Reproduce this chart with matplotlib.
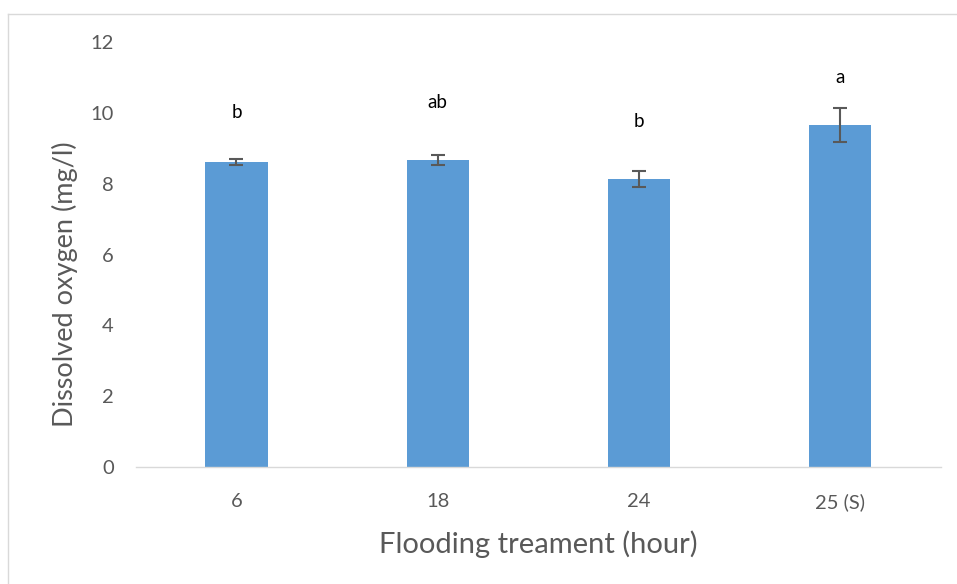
import matplotlib.pyplot as plt
from matplotlib.lines import Line2D

# values
treatments = ['6', '18', '24', '25 (S)']
oxygen = [8.61, 8.68, 8.14, 9.66]
oxygen_err = [0.09, 0.14, 0.23, 0.48]
letters = ['b', 'ab', 'b', 'a']
letter_y = [10.0, 10.28, 9.77, 10.99]

plt.rcParams['font.family'] = ['Lato', 'DejaVu Sans']
gray = '#595959'

fig = plt.figure(figsize=(9.57, 5.84), dpi=100)
ax = fig.add_axes([0.142, 0.2003, 0.841, 0.7277])

x = range(len(treatments))
ax.bar(x, oxygen, width=0.31, color='#5B9BD5', zorder=2)
ax.errorbar(x, oxygen, yerr=oxygen_err, fmt='none', ecolor=gray,
            elinewidth=1.5, capsize=5, capthick=1.5, zorder=3)

for xi, lab, ly in zip(x, letters, letter_y):
    ax.text(xi, ly, lab, ha='center', va='center', fontsize=13.5, color='black')

ax.set_xlim(-0.5, 3.5)
ax.set_ylim(0, 12)
ax.set_yticks(range(0, 13, 2))
ax.set_xticks(list(x))
ax.set_xticklabels(treatments)
ax.tick_params(axis='both', length=0, labelsize=14.5, colors=gray)
ax.tick_params(axis='y', pad=16)
ax.tick_params(axis='x', pad=19)

for side in ['top', 'right', 'left']:
    ax.spines[side].set_visible(False)
ax.spines['bottom'].set_color('#D9D9D9')
ax.spines['bottom'].set_linewidth(1)

ax.set_ylabel('Dissolved oxygen (mg/l)', fontsize=19.5, color=gray)
ax.yaxis.set_label_coords(-0.072, 0.43)
ax.set_xlabel('Flooding treament (hour)', fontsize=21, color=gray, labelpad=14)

# light border along the top and left of the chart area
border = dict(transform=fig.transFigure, color='#D9D9D9', linewidth=1)
fig.add_artist(Line2D([8 / 957, 1], [1 - 14 / 584] * 2, **border))
fig.add_artist(Line2D([8 / 957] * 2, [0, 1 - 14 / 584], **border))

plt.savefig('out.png', dpi=100)
